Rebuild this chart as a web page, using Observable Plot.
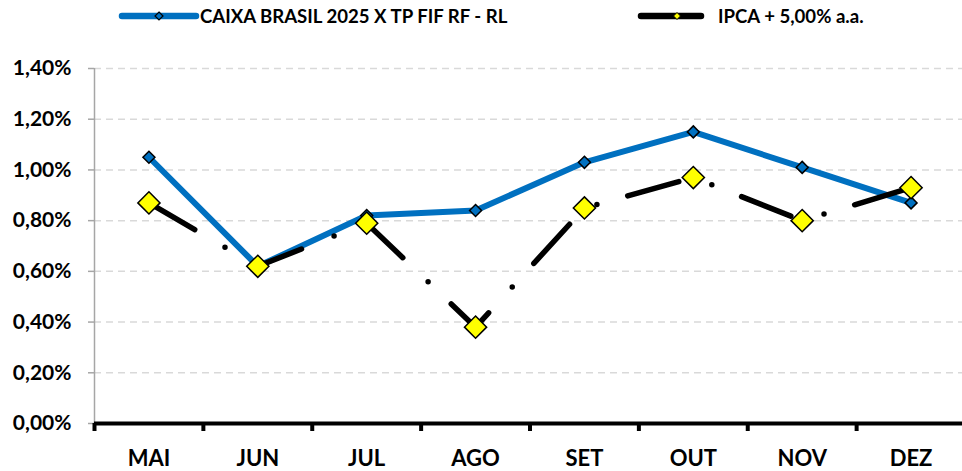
<!DOCTYPE html>
<html>
<head>
<meta charset="utf-8">
<script src="https://cdn.jsdelivr.net/npm/d3@7"></script>
<script src="https://cdn.jsdelivr.net/npm/@observablehq/plot@0.6"></script>
<style>
  html, body { margin: 0; padding: 0; background: #fff; }
  body { width: 962px; height: 471px; overflow: hidden; font-family: Lato, "Open Sans", sans-serif; }
  #legend { position: relative; width: 962px; height: 30px; }
  #legend span { position: absolute; top: 1px; line-height: 30px; font-weight: 700; font-size: 18.6px; color: #000; white-space: nowrap; }
  #legend svg { position: absolute; left: 0; top: 0; }
  #chart svg text { font-weight: 700; }
</style>
</head>
<body>
<div id="legend"></div>
<div id="chart"></div>
<script>
const months = ["MAI", "JUN", "JUL", "AGO", "SET", "OUT", "NOV", "DEZ"];
const caixa = [1.05, 0.62, 0.82, 0.84, 1.03, 1.15, 1.01, 0.87];
const ipca = [0.87, 0.62, 0.79, 0.38, 0.85, 0.97, 0.80, 0.93];
const yTicks = [0, 0.2, 0.4, 0.6, 0.8, 1.0, 1.2, 1.4];
const seriesNames = ["CAIXA BRASIL 2025 X TP FIF RF - RL", "IPCA + 5,00% a.a."];
const colors = { caixa: "#0070C0", ipca: "#000000", ipcaMarker: "#FFFF00" };

const data = months.map((m, i) => ({ m, xc: i + 0.5, caixa: caixa[i], ipca: ipca[i] }));

// Legend
const legend = document.getElementById("legend");
legend.innerHTML = `
<svg width="962" height="30">
  <line x1="122" x2="196" y1="16" y2="16" stroke="${colors.caixa}" stroke-width="6.5" stroke-linecap="round"/>
  <path d="M159,12 L163,16 L159,20 L155,16Z" fill="${colors.caixa}" stroke="black" stroke-width="1.2"/>
  <line x1="641" x2="701" y1="16" y2="16" stroke="${colors.ipca}" stroke-width="6.5" stroke-linecap="round"/>
  <path d="M677,12.5 L680.5,16 L677,19.5 L673.5,16Z" fill="${colors.ipcaMarker}" stroke="black" stroke-width="1"/>
</svg>
<span style="left:200px">${seriesNames[0]}</span>
<span style="left:718px">${seriesNames[1]}</span>`;

const fmt = v => v.toFixed(2).replace(".", ",") + "%";

const chart = Plot.plot({
  width: 962,
  height: 441,
  marginTop: 38,
  marginBottom: 48,
  marginLeft: 94,
  marginRight: 0,
  style: { fontFamily: "Lato, 'Open Sans', sans-serif", fontWeight: "bold", color: "black", background: "white", overflow: "visible" },
  x: { domain: [0, months.length], range: [94, 965], label: null },
  y: { domain: [0, 1.4], label: null },
  marks: [
    Plot.ruleY(yTicks.filter(v => v > 0), { stroke: "#d9d9d9", strokeWidth: 1.5, strokeDasharray: "7,5" }),
    Plot.ruleX([0], { stroke: "#a6a6a6", strokeWidth: 1.5 }),
    Plot.axisY(yTicks, { label: null, tickSize: 6, tickPadding: 17, stroke: "#a6a6a6", strokeWidth: 1.5, fill: "black", fontSize: 21, tickFormat: fmt }),
    Plot.axisX(d3.range(months.length), { label: null, tickSize: 8, stroke: "black", strokeWidth: 4, tickFormat: () => "" }),
    Plot.axisX(data.map(d => d.xc), { label: null, tickSize: 0, tickPadding: 27, fontSize: 22, fill: "black", tickFormat: d => months[Math.floor(d)] }),
    Plot.ruleY([0], { stroke: "black", strokeWidth: 4 }),
    Plot.line(data, { x: "xc", y: "caixa", stroke: colors.caixa, strokeWidth: 6, strokeLinejoin: "round", strokeLinecap: "round" }),
    Plot.line(data, { x: "xc", y: "ipca", stroke: colors.ipca, strokeWidth: 5.5, strokeLinecap: "round", strokeLinejoin: "round", strokeDasharray: "53,35,0,32" }),
    Plot.dot(data, { x: "xc", y: "caixa", symbol: "diamond2", r: 5.4, fill: colors.caixa, stroke: "black", strokeWidth: 1.5 }),
    Plot.dot(data, { x: "xc", y: "ipca", symbol: "diamond2", r: 10, fill: colors.ipcaMarker, stroke: "black", strokeWidth: 1.5 })
  ]
});
document.getElementById("chart").appendChild(chart);
</script>
</body>
</html>
